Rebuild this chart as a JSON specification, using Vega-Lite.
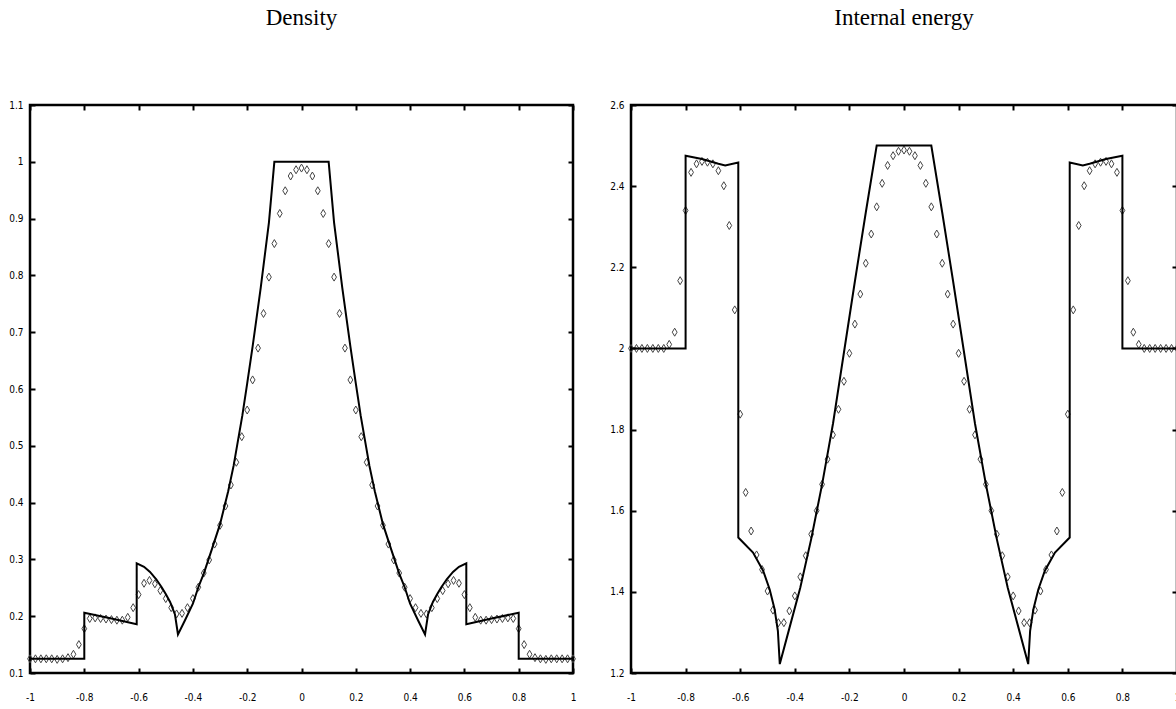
{
  "$schema": "https://vega.github.io/schema/vega-lite/v6.json",
  "background": "white",
  "padding": {"left": 7, "top": 5, "right": 0, "bottom": 0},
  "spacing": 29,
  "config": {
    "view": {"stroke": "black", "strokeWidth": 2.5},
    "axis": {
      "domain": false, "grid": false, "tickColor": "black", "tickWidth": 2, "tickSize": -5,
      "labelFont": "Liberation Sans Narrow, DejaVu Sans Condensed, sans-serif", "labelFontSize": 10,
      "labelColor": "black", "title": null, "labelFlush": false, "labelOverlap": false,
      "format": "~g", "labelExpr": "replace(datum.label, '\u2212', '-')"
    },
    "axisX": {"labelPadding": 24},
    "axisY": {"labelPadding": 12},
    "title": {"font": "Liberation Serif", "fontSize": 23, "fontWeight": "normal", "anchor": "middle", "frame": "group", "offset": 70, "color": "black"}
  },
  "datasets": {
    "dline": [
      {"i":0,"x":-1,"v":0.125},{"i":1,"x":-0.8,"v":0.125},{"i":2,"x":-0.8,"v":0.206},{"i":3,"x":-0.7,"v":0.196},{"i":4,"x":-0.607,"v":0.186},{"i":5,"x":-0.607,"v":0.293},{"i":6,"x":-0.58,"v":0.287},{"i":7,"x":-0.558,"v":0.278},{"i":8,"x":-0.535,"v":0.265},{"i":9,"x":-0.515,"v":0.251},{"i":10,"x":-0.5,"v":0.239},{"i":11,"x":-0.484,"v":0.225},{"i":12,"x":-0.466,"v":0.203},{"i":13,"x":-0.455,"v":0.168},{"i":14,"x":-0.43,"v":0.192},{"i":15,"x":-0.4,"v":0.222},{"i":16,"x":-0.38,"v":0.251},{"i":17,"x":-0.36,"v":0.275},{"i":18,"x":-0.33,"v":0.318},{"i":19,"x":-0.3,"v":0.362},{"i":20,"x":-0.27,"v":0.42},{"i":21,"x":-0.25,"v":0.465},{"i":22,"x":-0.218,"v":0.553},{"i":23,"x":-0.2,"v":0.61},{"i":24,"x":-0.18,"v":0.675},{"i":25,"x":-0.15,"v":0.779},{"i":26,"x":-0.12,"v":0.893},{"i":27,"x":-0.1,"v":1.0},
      {"i":28,"x":0.1,"v":1.0},{"i":29,"x":0.12,"v":0.893},{"i":30,"x":0.15,"v":0.779},{"i":31,"x":0.18,"v":0.675},{"i":32,"x":0.2,"v":0.61},{"i":33,"x":0.218,"v":0.553},{"i":34,"x":0.25,"v":0.465},{"i":35,"x":0.27,"v":0.42},{"i":36,"x":0.3,"v":0.362},{"i":37,"x":0.33,"v":0.318},{"i":38,"x":0.36,"v":0.275},{"i":39,"x":0.38,"v":0.251},{"i":40,"x":0.4,"v":0.222},{"i":41,"x":0.43,"v":0.192},{"i":42,"x":0.455,"v":0.168},{"i":43,"x":0.466,"v":0.203},{"i":44,"x":0.484,"v":0.225},{"i":45,"x":0.5,"v":0.239},{"i":46,"x":0.515,"v":0.251},{"i":47,"x":0.535,"v":0.265},{"i":48,"x":0.558,"v":0.278},{"i":49,"x":0.58,"v":0.287},{"i":50,"x":0.607,"v":0.293},{"i":51,"x":0.607,"v":0.186},{"i":52,"x":0.7,"v":0.196},{"i":53,"x":0.8,"v":0.206},{"i":54,"x":0.8,"v":0.125},{"i":55,"x":1,"v":0.125}
    ],
    "dpts": [
      {"x":-1,"v":0.125},{"x":-0.98,"v":0.125},{"x":-0.96,"v":0.125},{"x":-0.94,"v":0.125},{"x":-0.92,"v":0.125},{"x":-0.9,"v":0.124},{"x":-0.88,"v":0.125},{"x":-0.86,"v":0.127},{"x":-0.84,"v":0.133},{"x":-0.82,"v":0.15},{"x":-0.8,"v":0.178},{"x":-0.78,"v":0.196},{"x":-0.76,"v":0.197},{"x":-0.74,"v":0.196},{"x":-0.72,"v":0.195},{"x":-0.7,"v":0.194},{"x":-0.68,"v":0.193},{"x":-0.66,"v":0.193},{"x":-0.64,"v":0.198},{"x":-0.62,"v":0.215},{"x":-0.6,"v":0.238},{"x":-0.58,"v":0.258},{"x":-0.56,"v":0.263},{"x":-0.54,"v":0.257},{"x":-0.52,"v":0.245},{"x":-0.5,"v":0.231},{"x":-0.48,"v":0.215},{"x":-0.46,"v":0.204},{"x":-0.44,"v":0.205},{"x":-0.42,"v":0.215},{"x":-0.4,"v":0.231},{"x":-0.38,"v":0.251},{"x":-0.36,"v":0.276},{"x":-0.34,"v":0.299},{"x":-0.32,"v":0.327},{"x":-0.3,"v":0.36},{"x":-0.28,"v":0.394},{"x":-0.26,"v":0.431},{"x":-0.24,"v":0.471},{"x":-0.22,"v":0.516},{"x":-0.2,"v":0.563},{"x":-0.18,"v":0.616},{"x":-0.16,"v":0.672},{"x":-0.14,"v":0.733},{"x":-0.12,"v":0.797},{"x":-0.1,"v":0.856},{"x":-0.08,"v":0.909},{"x":-0.06,"v":0.949},{"x":-0.04,"v":0.975},{"x":-0.02,"v":0.986},{"x":0,"v":0.989},
      {"x":0.02,"v":0.986},{"x":0.04,"v":0.975},{"x":0.06,"v":0.949},{"x":0.08,"v":0.909},{"x":0.1,"v":0.856},{"x":0.12,"v":0.797},{"x":0.14,"v":0.733},{"x":0.16,"v":0.672},{"x":0.18,"v":0.616},{"x":0.2,"v":0.563},{"x":0.22,"v":0.516},{"x":0.24,"v":0.471},{"x":0.26,"v":0.431},{"x":0.28,"v":0.394},{"x":0.3,"v":0.36},{"x":0.32,"v":0.327},{"x":0.34,"v":0.299},{"x":0.36,"v":0.276},{"x":0.38,"v":0.251},{"x":0.4,"v":0.231},{"x":0.42,"v":0.215},{"x":0.44,"v":0.205},{"x":0.46,"v":0.204},{"x":0.48,"v":0.215},{"x":0.5,"v":0.231},{"x":0.52,"v":0.245},{"x":0.54,"v":0.257},{"x":0.56,"v":0.263},{"x":0.58,"v":0.258},{"x":0.6,"v":0.238},{"x":0.62,"v":0.215},{"x":0.64,"v":0.198},{"x":0.66,"v":0.193},{"x":0.68,"v":0.193},{"x":0.7,"v":0.194},{"x":0.72,"v":0.195},{"x":0.74,"v":0.196},{"x":0.76,"v":0.197},{"x":0.78,"v":0.196},{"x":0.8,"v":0.178},{"x":0.82,"v":0.15},{"x":0.84,"v":0.133},{"x":0.86,"v":0.127},{"x":0.88,"v":0.125},{"x":0.9,"v":0.124},{"x":0.92,"v":0.125},{"x":0.94,"v":0.125},{"x":0.96,"v":0.125},{"x":0.98,"v":0.125},{"x":1,"v":0.125}
    ],
    "eline": [
      {"i":0,"x":-1,"v":2.0},{"i":1,"x":-0.8,"v":2.0},{"i":2,"x":-0.8,"v":2.475},{"i":3,"x":-0.74,"v":2.467},{"i":4,"x":-0.68,"v":2.455},{"i":5,"x":-0.655,"v":2.451},{"i":6,"x":-0.607,"v":2.458},{"i":7,"x":-0.607,"v":1.534},{"i":8,"x":-0.553,"v":1.497},{"i":9,"x":-0.516,"v":1.452},{"i":10,"x":-0.492,"v":1.406},{"i":11,"x":-0.474,"v":1.357},{"i":12,"x":-0.462,"v":1.304},{"i":13,"x":-0.455,"v":1.222},{"i":14,"x":-0.42,"v":1.31},{"i":15,"x":-0.38,"v":1.41},{"i":16,"x":-0.34,"v":1.53},{"i":17,"x":-0.3,"v":1.665},{"i":18,"x":-0.26,"v":1.815},{"i":19,"x":-0.22,"v":1.99},{"i":20,"x":-0.18,"v":2.165},{"i":21,"x":-0.14,"v":2.335},{"i":22,"x":-0.1,"v":2.5},
      {"i":23,"x":0.1,"v":2.5},{"i":24,"x":0.14,"v":2.335},{"i":25,"x":0.18,"v":2.165},{"i":26,"x":0.22,"v":1.99},{"i":27,"x":0.26,"v":1.815},{"i":28,"x":0.3,"v":1.665},{"i":29,"x":0.34,"v":1.53},{"i":30,"x":0.38,"v":1.41},{"i":31,"x":0.42,"v":1.31},{"i":32,"x":0.455,"v":1.222},{"i":33,"x":0.462,"v":1.304},{"i":34,"x":0.474,"v":1.357},{"i":35,"x":0.492,"v":1.406},{"i":36,"x":0.516,"v":1.452},{"i":37,"x":0.553,"v":1.497},{"i":38,"x":0.607,"v":1.534},{"i":39,"x":0.607,"v":2.458},{"i":40,"x":0.655,"v":2.451},{"i":41,"x":0.68,"v":2.455},{"i":42,"x":0.74,"v":2.467},{"i":43,"x":0.8,"v":2.475},{"i":44,"x":0.8,"v":2.0},{"i":45,"x":1,"v":2.0}
    ],
    "epts": [
      {"x":-1,"v":2.0},{"x":-0.98,"v":2.0},{"x":-0.96,"v":2.0},{"x":-0.94,"v":2.0},{"x":-0.92,"v":2.0},{"x":-0.9,"v":2.0},{"x":-0.88,"v":2.0},{"x":-0.86,"v":2.01},{"x":-0.84,"v":2.04},{"x":-0.82,"v":2.167},{"x":-0.8,"v":2.34},{"x":-0.78,"v":2.434},{"x":-0.76,"v":2.455},{"x":-0.74,"v":2.461},{"x":-0.72,"v":2.459},{"x":-0.7,"v":2.455},{"x":-0.68,"v":2.438},{"x":-0.66,"v":2.401},{"x":-0.64,"v":2.303},{"x":-0.62,"v":2.095},{"x":-0.6,"v":1.838},{"x":-0.58,"v":1.645},{"x":-0.56,"v":1.55},{"x":-0.54,"v":1.491},{"x":-0.52,"v":1.455},{"x":-0.5,"v":1.402},{"x":-0.48,"v":1.355},{"x":-0.46,"v":1.324},{"x":-0.44,"v":1.324},{"x":-0.42,"v":1.353},{"x":-0.4,"v":1.39},{"x":-0.38,"v":1.437},{"x":-0.36,"v":1.489},{"x":-0.34,"v":1.542},{"x":-0.32,"v":1.6},{"x":-0.3,"v":1.665},{"x":-0.28,"v":1.727},{"x":-0.26,"v":1.787},{"x":-0.24,"v":1.85},{"x":-0.22,"v":1.919},{"x":-0.2,"v":1.988},{"x":-0.18,"v":2.06},{"x":-0.16,"v":2.134},{"x":-0.14,"v":2.21},{"x":-0.12,"v":2.282},{"x":-0.1,"v":2.349},{"x":-0.08,"v":2.407},{"x":-0.06,"v":2.451},{"x":-0.04,"v":2.475},{"x":-0.02,"v":2.486},{"x":0,"v":2.489},
      {"x":0.02,"v":2.486},{"x":0.04,"v":2.475},{"x":0.06,"v":2.451},{"x":0.08,"v":2.407},{"x":0.1,"v":2.349},{"x":0.12,"v":2.282},{"x":0.14,"v":2.21},{"x":0.16,"v":2.134},{"x":0.18,"v":2.06},{"x":0.2,"v":1.988},{"x":0.22,"v":1.919},{"x":0.24,"v":1.85},{"x":0.26,"v":1.787},{"x":0.28,"v":1.727},{"x":0.3,"v":1.665},{"x":0.32,"v":1.6},{"x":0.34,"v":1.542},{"x":0.36,"v":1.489},{"x":0.38,"v":1.437},{"x":0.4,"v":1.39},{"x":0.42,"v":1.353},{"x":0.44,"v":1.324},{"x":0.46,"v":1.324},{"x":0.48,"v":1.355},{"x":0.5,"v":1.402},{"x":0.52,"v":1.455},{"x":0.54,"v":1.491},{"x":0.56,"v":1.55},{"x":0.58,"v":1.645},{"x":0.6,"v":1.838},{"x":0.62,"v":2.095},{"x":0.64,"v":2.303},{"x":0.66,"v":2.401},{"x":0.68,"v":2.438},{"x":0.7,"v":2.455},{"x":0.72,"v":2.459},{"x":0.74,"v":2.461},{"x":0.76,"v":2.455},{"x":0.78,"v":2.434},{"x":0.8,"v":2.34},{"x":0.82,"v":2.167},{"x":0.84,"v":2.04},{"x":0.86,"v":2.01},{"x":0.88,"v":2.0},{"x":0.9,"v":2.0},{"x":0.92,"v":2.0},{"x":0.94,"v":2.0},{"x":0.96,"v":2.0},{"x":0.98,"v":2.0},{"x":1,"v":2.0}
    ]
  },
  "hconcat": [
    {
      "title": "Density",
      "width": 543, "height": 568,
      "layer": [
        {
          "data": {"name": "dpts"},
          "mark": {"type": "point", "shape": "M0,-1L0.6,0L0,1L-0.6,0Z", "size": 64, "filled": false, "stroke": "#444", "strokeWidth": 1, "opacity": 1},
          "encoding": {
            "x": {"field": "x", "type": "quantitative", "scale": {"domain": [-1, 1], "nice": false, "zero": false}, "axis": {"orient": "top", "labels": false, "values": [-1,-0.8,-0.6,-0.4,-0.2,0,0.2,0.4,0.6,0.8,1]}},
            "y": {"field": "v", "type": "quantitative", "scale": {"domain": [0.1, 1.1], "nice": false, "zero": false}, "axis": {"orient": "right", "labels": false, "values": [0.1,0.2,0.3,0.4,0.5,0.6,0.7,0.8,0.9,1,1.1]}}
          }
        },
        {
          "data": {"name": "dline"},
          "mark": {"type": "line", "color": "black", "strokeWidth": 2},
          "encoding": {
            "x": {"field": "x", "type": "quantitative", "axis": {"orient": "bottom", "values": [-1,-0.8,-0.6,-0.4,-0.2,0,0.2,0.4,0.6,0.8,1]}},
            "y": {"field": "v", "type": "quantitative", "axis": {"orient": "left", "values": [0.1,0.2,0.3,0.4,0.5,0.6,0.7,0.8,0.9,1,1.1]}},
            "order": {"field": "i", "type": "quantitative"}
          }
        }
      ],
      "resolve": {"axis": {"x": "independent", "y": "independent"}}
    },
    {
      "title": "Internal energy",
      "width": 546, "height": 568,
      "layer": [
        {
          "data": {"name": "epts"},
          "mark": {"type": "point", "shape": "M0,-1L0.6,0L0,1L-0.6,0Z", "size": 64, "filled": false, "stroke": "#444", "strokeWidth": 1, "opacity": 1},
          "encoding": {
            "x": {"field": "x", "type": "quantitative", "scale": {"domain": [-1, 1], "nice": false, "zero": false}, "axis": {"orient": "top", "labels": false, "values": [-1,-0.8,-0.6,-0.4,-0.2,0,0.2,0.4,0.6,0.8,1]}},
            "y": {"field": "v", "type": "quantitative", "scale": {"domain": [1.2, 2.6], "nice": false, "zero": false}, "axis": {"orient": "right", "labels": false, "values": [1.2,1.4,1.6,1.8,2,2.2,2.4,2.6]}}
          }
        },
        {
          "data": {"name": "eline"},
          "mark": {"type": "line", "color": "black", "strokeWidth": 2},
          "encoding": {
            "x": {"field": "x", "type": "quantitative", "axis": {"orient": "bottom", "values": [-1,-0.8,-0.6,-0.4,-0.2,0,0.2,0.4,0.6,0.8,1]}},
            "y": {"field": "v", "type": "quantitative", "axis": {"orient": "left", "values": [1.2,1.4,1.6,1.8,2,2.2,2.4,2.6]}},
            "order": {"field": "i", "type": "quantitative"}
          }
        }
      ],
      "resolve": {"axis": {"x": "independent", "y": "independent"}}
    }
  ]
}
